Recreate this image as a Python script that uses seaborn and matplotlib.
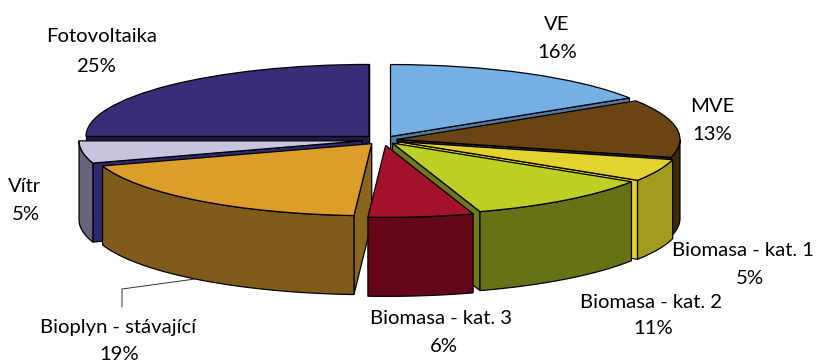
import numpy as np
import matplotlib
matplotlib.use("Agg")
import matplotlib.pyplot as plt
import seaborn as sns

# Shares of the installed sources, clockwise from twelve o'clock
categories = ["VE", "MVE", "Biomasa - kat. 1", "Biomasa - kat. 2", "Biomasa - kat. 3",
              "Bioplyn - stávající", "Vítr", "Fotovoltaika"]
shares = [16, 13, 5, 11, 6, 19, 5, 25]

top_colors = ["#74B0E4", "#6A4413", "#E3D32E", "#BDD026", "#A5122D", "#DD9D2A", "#C8C4DE", "#382E78"]
wall_colors = ["#4E7CA3", "#3E2808", "#A39A22", "#667213", "#640619", "#7F5C1A", "#66637D", "#1E1A4C"]
cut_colors = ["#4E7CA3", "#3F1A3F", "#E3D32E", "#6E7A17", "#640619", "#8A651C", "#2E2A70", "#1E1A4C"]
draw_order = [7, 0, 1, 6, 2, 5, 3, 4]
pull_out = [0.055, 0.05, 0.06, 0.055, 0.075, 0.065, 0.075, 0.07]

W, H = 819, 362
RX, RY = 283.0, 72.0      # pixels per data unit: the tilted disc's semi-axes
CX, CY = 383.0, 140.0     # disc centre in pixels
DEPTH = 79.0 / RY         # extrusion height in data units

sns.set_theme(style="white")
plt.rcParams["font.family"] = ["Lato", "DejaVu Sans"]

fig = plt.figure(figsize=(W / 100, H / 100), dpi=100, facecolor="white")
ax = fig.add_axes([0, 0, 1, 1])

wedges, _ = ax.pie(shares, colors=top_colors, startangle=90, counterclock=False,
                   explode=pull_out,
                   wedgeprops=dict(edgecolor="black", linewidth=0.9))

# Squash the round pie into a tilted ellipse
ax.set_aspect("auto")
ax.set_xlim(-CX / RX, (W - CX) / RX)
ax.set_ylim(-(H - CY) / RY, CY / RY)


def rim(center, radius, a0, a1):
    phi = np.radians(np.linspace(a0, a1, 80))
    return center[0] + radius * np.cos(phi), center[1] + radius * np.sin(phi)


def wall(xs, ys):
    return np.r_[xs, xs[::-1]], np.r_[ys, ys[::-1] - DEPTH]


edge = dict(edgecolor="black", linewidth=0.9)
for rank, i in enumerate(draw_order):
    w = wedges[i]
    z = 10 + rank * 5
    w.set_zorder(z + 3)
    (cx, cy), r, t1, t2 = w.center, w.r, w.theta1, w.theta2

    # Radial cut faces, shown only when they turn toward the viewer
    for angle, visible in ((t1, np.cos(np.radians(t1)) > 0), (t2, np.cos(np.radians(t2)) < 0)):
        if visible:
            ex, ey = rim((cx, cy), r, angle, angle)
            px, py = wall(np.array([cx, ex[0]]), np.array([cy, ey[0]]))
            ax.fill(px, py, facecolor=cut_colors[i], zorder=z, **edge)

    # Curved outer wall on the front half of the rim
    for k in (-720, -360, 0):
        a0, a1 = max(t1, 180 + k), min(t2, 360 + k)
        if a1 > a0:
            px, py = wall(*rim((cx, cy), r, a0, a1))
            ax.fill(px, py, facecolor=wall_colors[i], zorder=z + 1, **edge)


def label(x, y, text):
    fig.text(x / W, 1 - y / H, text, ha="center", va="center", fontsize=14.6, color="black")


label(557, 24, "VE"); label(557, 52, f"{shares[0]}%")
label(712, 107, "MVE"); label(712, 135, f"{shares[1]}%")
label(743, 250, categories[2]); label(750, 278, f"{shares[2]}%")
label(651, 302, categories[3]); label(653, 329, f"{shares[3]}%")
label(441, 318, categories[4]); label(444, 347, f"{shares[4]}%")
label(118, 327, categories[5]); label(119, 355, f"{shares[5]}%")
label(25, 186, categories[6]); label(26, 214, f"{shares[6]}%")
label(102, 37, categories[7]); label(96, 66, f"{shares[7]}%")

# Leader line from the biogas label to its slice
fig.add_artist(plt.Line2D(np.array([195, 122, 122]) / W, 1 - np.array([279, 289, 307]) / H,
                          color="#333333", linewidth=0.7))

fig.savefig("out.png", dpi=100)
